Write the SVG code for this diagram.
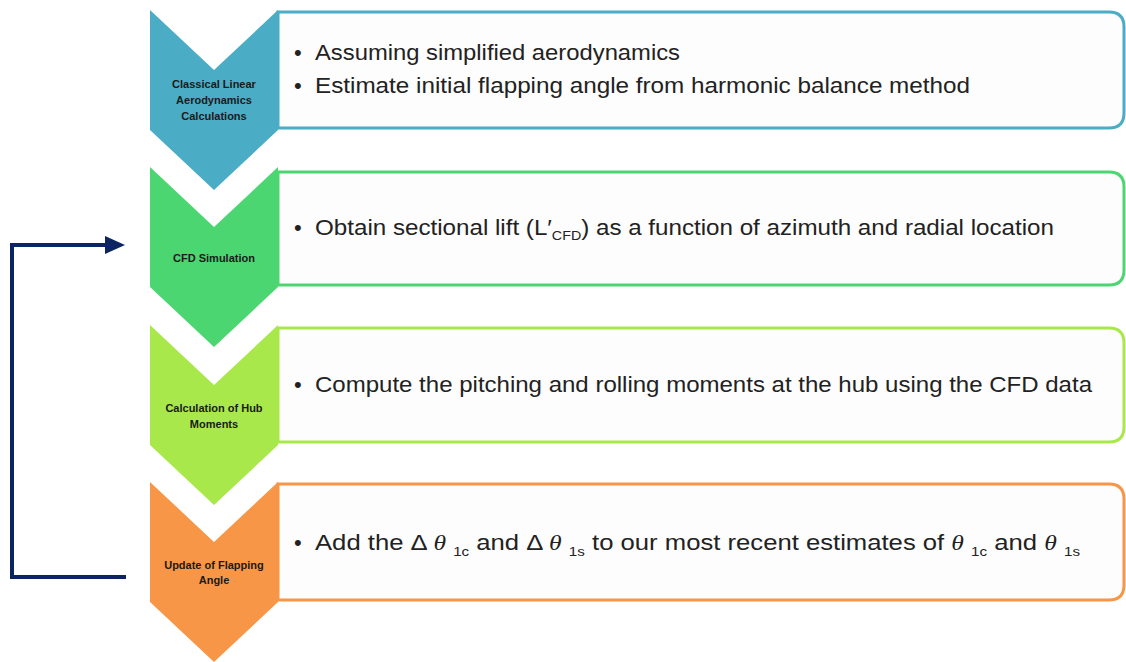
<svg xmlns="http://www.w3.org/2000/svg" width="1126" height="662" viewBox="0 0 1126 662">
<defs>
<style>
.box{fill:#fdfdfd;stroke-width:3}
.lbl{font-family:"Liberation Sans",Arial,sans-serif;font-size:11px;font-weight:bold;fill:#1a1a1a;text-anchor:middle}
.txt{font-family:"Liberation Sans",Arial,sans-serif;font-size:22px;fill:#222}
.sub{font-size:13px}
.th{font-family:"Liberation Serif",serif;font-style:italic}
.conn{fill:none;stroke:#0c2461;stroke-width:4}
</style>
</defs>
<rect width="1126" height="662" fill="#ffffff"/>
<g id="connectors">
<path class="conn" d="M126,577 H12 V245 H108"/>
<polygon points="125,245 105,236 105,254" fill="#0c2461"/>
</g>
<g id="step1">
<path class="box" stroke="#4bacc6" d="M278,12 H1109 Q1124,12 1124,27 V113 Q1124,128 1109,128 H278 Z"/>
<polygon points="150,10 214,70 278,10 278,130 214,190 150,130" fill="#4bacc6"/>
<text class="lbl" x="214" y="88">Classical Linear</text>
<text class="lbl" x="214" y="104">Aerodynamics</text>
<text class="lbl" x="214" y="120">Calculations</text>
<text class="txt" x="294" y="60">•</text>
<text class="txt" x="315" y="60" textLength="365" lengthAdjust="spacingAndGlyphs">Assuming simplified aerodynamics</text>
<text class="txt" x="294" y="93">•</text>
<text class="txt" x="315" y="93" textLength="655" lengthAdjust="spacingAndGlyphs">Estimate initial flapping angle from harmonic balance method</text>
</g>
<g id="step2">
<path class="box" stroke="#4cd672" d="M278,172 H1109 Q1124,172 1124,187 V270 Q1124,285 1109,285 H278 Z"/>
<polygon points="150,167 214,227 278,167 278,287 214,347 150,287" fill="#4cd672"/>
<text class="lbl" x="214" y="262">CFD Simulation</text>
<text class="txt" x="294" y="235">•</text>
<text class="txt" x="315" y="235" textLength="739" lengthAdjust="spacingAndGlyphs">Obtain sectional lift (L′<tspan class="sub" dy="5">CFD</tspan><tspan dy="-5">) as a function of azimuth and radial location</tspan></text>
</g>
<g id="step3">
<path class="box" stroke="#a9e84a" d="M278,328 H1109 Q1124,328 1124,343 V427 Q1124,442 1109,442 H278 Z"/>
<polygon points="150,325 214,385 278,325 278,445 214,505 150,445" fill="#a9e84a"/>
<text class="lbl" x="214" y="412">Calculation of Hub</text>
<text class="lbl" x="214" y="428">Moments</text>
<text class="txt" x="294" y="392">•</text>
<text class="txt" x="315" y="392" textLength="777" lengthAdjust="spacingAndGlyphs">Compute the pitching and rolling moments at the hub using the CFD data</text>
</g>
<g id="step4">
<path class="box" stroke="#f79646" d="M278,484 H1109 Q1124,484 1124,499 V585 Q1124,600 1109,600 H278 Z"/>
<polygon points="150,482 214,542 278,482 278,602 214,662 150,602" fill="#f79646"/>
<text class="lbl" x="214" y="569">Update of Flapping</text>
<text class="lbl" x="214" y="584">Angle</text>
<text class="txt" x="294" y="550">•</text>
<text class="txt" x="315" y="550" textLength="765" lengthAdjust="spacingAndGlyphs">Add the Δ <tspan class="th">θ</tspan> <tspan class="sub" dy="6">1c</tspan><tspan dy="-6"> and Δ </tspan><tspan class="th">θ</tspan> <tspan class="sub" dy="6">1s</tspan><tspan dy="-6">  to our most recent estimates of </tspan><tspan class="th">θ</tspan> <tspan class="sub" dy="6">1c</tspan><tspan dy="-6"> and </tspan><tspan class="th">θ</tspan> <tspan class="sub" dy="6">1s</tspan></text>
</g>
</svg>
